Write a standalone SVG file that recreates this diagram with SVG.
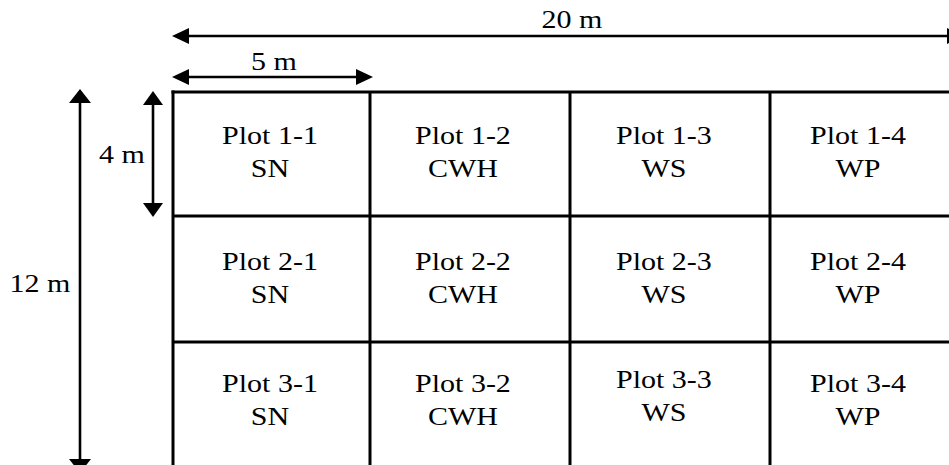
<svg xmlns="http://www.w3.org/2000/svg" width="949" height="465" viewBox="0 0 949 465">
<style>
.t{font-family:"Liberation Serif","Times New Roman",serif;font-size:25px;fill:#000;text-anchor:middle}
.g{stroke:#000;stroke-width:3;fill:none}
.a{stroke:#000;stroke-width:2.6;fill:none}
.h{fill:#000}
</style>
<rect width="949" height="465" fill="#fff"/>
<g id="grid" class="g">
<line x1="171.5" y1="92" x2="949" y2="92"/>
<line x1="173" y1="216" x2="949" y2="216"/>
<line x1="173" y1="342" x2="949" y2="342"/>
<line x1="173" y1="90.5" x2="173" y2="465"/>
<line x1="370" y1="92" x2="370" y2="465"/>
<line x1="570" y1="92" x2="570" y2="465"/>
<line x1="770" y1="92" x2="770" y2="465"/>
</g>
<g id="connectors">
<g id="dim-20m">
<line class="a" x1="185" y1="36" x2="949" y2="36"/>
<polygon class="h" points="172,36 189,28 189,44"/>
<polygon class="h" points="964,36 947,28 947,44"/>
</g>
<g id="dim-5m">
<line class="a" x1="185" y1="77" x2="360" y2="77"/>
<polygon class="h" points="172,77 189,69 189,85"/>
<polygon class="h" points="373,77 356,69 356,85"/>
</g>
<g id="dim-4m">
<line class="a" x1="153" y1="102" x2="153" y2="206"/>
<polygon class="h" points="153,91 143,105 163,105"/>
<polygon class="h" points="153,217 143,203 163,203"/>
</g>
<g id="dim-12m">
<line class="a" x1="80" y1="100" x2="80" y2="465"/>
<polygon class="h" points="80,89 69,103 91,103"/>
<polygon class="h" points="80,473 69,459 91,459"/>
</g>
</g>
<g transform="scale(1.2,1)">
<g id="labels">
<text class="t" x="476.7" y="28">20 m</text>
<text class="t" x="228.3" y="70">5 m</text>
<text class="t" x="101.7" y="163">4 m</text>
<text class="t" x="33.3" y="292">12 m</text>
</g>
<g id="plot-1-1"><text class="t" x="225" y="144">Plot 1-1</text><text class="t" x="225" y="177">SN</text></g>
<g id="plot-1-2"><text class="t" x="385.8" y="144">Plot 1-2</text><text class="t" x="385.8" y="177">CWH</text></g>
<g id="plot-1-3"><text class="t" x="553.3" y="144">Plot 1-3</text><text class="t" x="553.3" y="177">WS</text></g>
<g id="plot-1-4"><text class="t" x="715" y="144">Plot 1-4</text><text class="t" x="715" y="177">WP</text></g>
<g id="plot-2-1"><text class="t" x="225" y="270">Plot 2-1</text><text class="t" x="225" y="303">SN</text></g>
<g id="plot-2-2"><text class="t" x="385.8" y="270">Plot 2-2</text><text class="t" x="385.8" y="303">CWH</text></g>
<g id="plot-2-3"><text class="t" x="553.3" y="270">Plot 2-3</text><text class="t" x="553.3" y="303">WS</text></g>
<g id="plot-2-4"><text class="t" x="715" y="270">Plot 2-4</text><text class="t" x="715" y="303">WP</text></g>
<g id="plot-3-1"><text class="t" x="225" y="392">Plot 3-1</text><text class="t" x="225" y="425">SN</text></g>
<g id="plot-3-2"><text class="t" x="385.8" y="392">Plot 3-2</text><text class="t" x="385.8" y="425">CWH</text></g>
<g id="plot-3-3"><text class="t" x="553.3" y="388">Plot 3-3</text><text class="t" x="553.3" y="421">WS</text></g>
<g id="plot-3-4"><text class="t" x="715" y="392">Plot 3-4</text><text class="t" x="715" y="425">WP</text></g>
</g>
</svg>
